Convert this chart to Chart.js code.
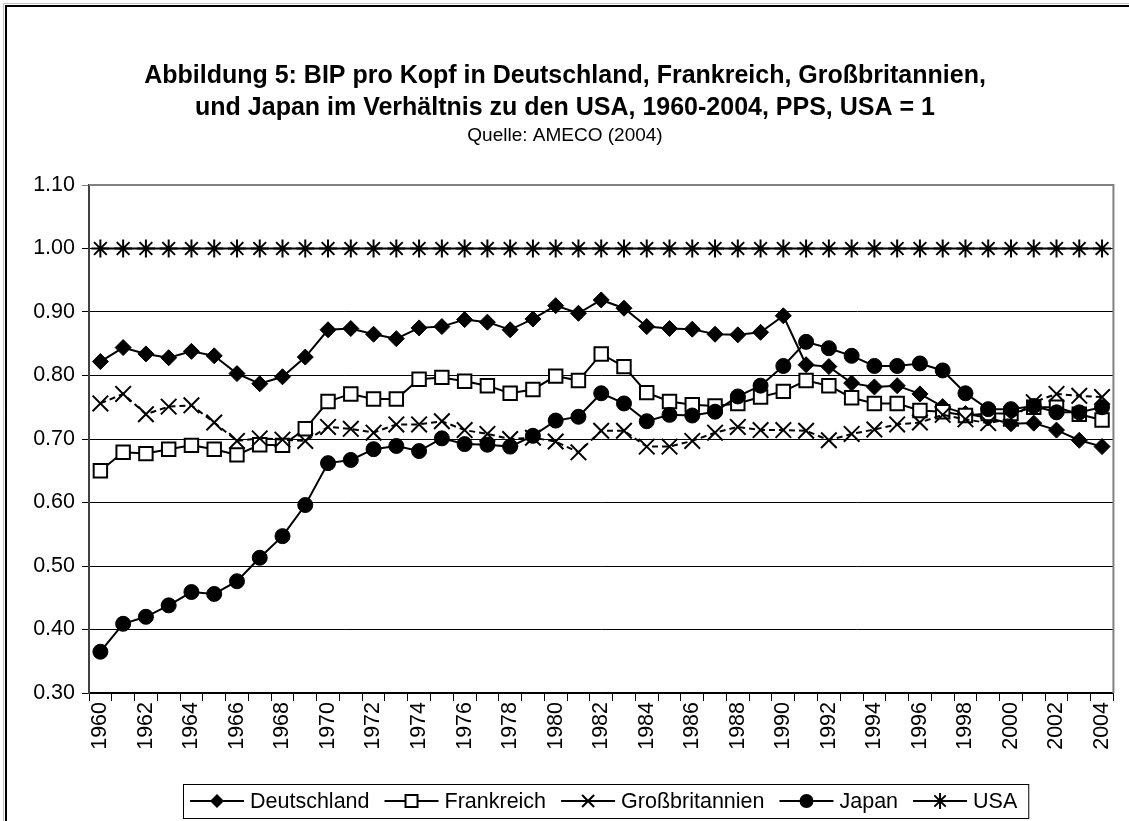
<!DOCTYPE html>
<html>
<head>
<meta charset="utf-8">
<script src="https://cdn.jsdelivr.net/npm/chart.js@4.4.0/dist/chart.umd.min.js"></script>
<style>
  body { margin: 0; background: #fff; }
  #wrap { width: 1129px; height: 821px; }
</style>
</head>
<body>
<div id="wrap"><canvas id="chart" width="1129" height="821"></canvas></div>
<script>
const years = ['1960','1961','1962','1963','1964','1965','1966','1967','1968','1969',
  '1970','1971','1972','1973','1974','1975','1976','1977','1978','1979',
  '1980','1981','1982','1983','1984','1985','1986','1987','1988','1989',
  '1990','1991','1992','1993','1994','1995','1996','1997','1998','1999',
  '2000','2001','2002','2003','2004'];

const deutschland = [0.822, 0.844, 0.834, 0.828, 0.838, 0.831, 0.803, 0.787, 0.798, 0.829,
  0.872, 0.874, 0.865, 0.858, 0.875, 0.877, 0.888, 0.884, 0.872, 0.889,
  0.910, 0.898, 0.919, 0.906, 0.877, 0.874, 0.873, 0.865, 0.864, 0.868,
  0.894, 0.817, 0.814, 0.788, 0.782, 0.784, 0.771, 0.751, 0.740, 0.733,
  0.724, 0.725, 0.714, 0.698, 0.688];

const frankreich = [0.650, 0.679, 0.677, 0.684, 0.690, 0.684, 0.675, 0.691, 0.690, 0.716,
  0.759, 0.771, 0.763, 0.763, 0.794, 0.797, 0.791, 0.784, 0.772, 0.778,
  0.799, 0.792, 0.834, 0.814, 0.773, 0.759, 0.754, 0.752, 0.756, 0.766,
  0.775, 0.792, 0.784, 0.765, 0.756, 0.756, 0.745, 0.743, 0.737, 0.740,
  0.740, 0.750, 0.750, 0.739, 0.730];

const grossbritannien = [0.756, 0.771, 0.739, 0.751, 0.753, 0.726, 0.697, 0.701, 0.699, 0.697,
  0.719, 0.716, 0.710, 0.723, 0.723, 0.728, 0.714, 0.708, 0.700, 0.702,
  0.696, 0.679, 0.713, 0.713, 0.688, 0.688, 0.697, 0.710, 0.719, 0.714,
  0.714, 0.713, 0.698, 0.708, 0.715, 0.723, 0.726, 0.738, 0.731, 0.725,
  0.732, 0.758, 0.771, 0.768, 0.766];

const japan = [0.365, 0.409, 0.420, 0.438, 0.459, 0.456, 0.476, 0.513, 0.547, 0.596,
  0.662, 0.667, 0.684, 0.689, 0.681, 0.701, 0.692, 0.691, 0.688, 0.705,
  0.729, 0.735, 0.772, 0.756, 0.728, 0.738, 0.737, 0.743, 0.767, 0.784,
  0.815, 0.853, 0.843, 0.831, 0.815, 0.815, 0.819, 0.808, 0.772, 0.747,
  0.747, 0.752, 0.742, 0.742, 0.750];

const usa = [1, 1, 1, 1, 1, 1, 1, 1, 1, 1,
  1, 1, 1, 1, 1, 1, 1, 1, 1, 1,
  1, 1, 1, 1, 1, 1, 1, 1, 1, 1,
  1, 1, 1, 1, 1, 1, 1, 1, 1, 1,
  1, 1, 1, 1, 1];

const titleLines = [
  'Abbildung 5: BIP pro Kopf in Deutschland, Frankreich, Großbritannien,',
  'und Japan im Verhältnis zu den USA, 1960-2004, PPS, USA = 1'
];
const subtitle = 'Quelle: AMECO (2004)';

const FONT = '"Liberation Sans", Arial, sans-serif';

// marker for the legend (the chart itself uses Chart.js point styles)
function drawMarker(ctx, style, x, y, r) {
  ctx.save();
  ctx.strokeStyle = '#000';
  ctx.fillStyle = '#000';
  ctx.lineWidth = 2;
  ctx.beginPath();
  if (style === 'rectRot') {
    ctx.moveTo(x, y - r); ctx.lineTo(x + r, y); ctx.lineTo(x, y + r); ctx.lineTo(x - r, y);
    ctx.closePath(); ctx.fill();
  } else if (style === 'rect') {
    ctx.fillStyle = '#fff';
    ctx.rect(x - r, y - r, 2 * r, 2 * r);
    ctx.fill(); ctx.stroke();
  } else if (style === 'crossRot') {
    ctx.moveTo(x - r, y - r); ctx.lineTo(x + r, y + r);
    ctx.moveTo(x + r, y - r); ctx.lineTo(x - r, y + r);
    ctx.stroke();
  } else if (style === 'circle') {
    ctx.arc(x, y, r, 0, Math.PI * 2); ctx.fill();
  } else if (style === 'star') {
    const d = r * Math.SQRT1_2;
    ctx.moveTo(x, y - r); ctx.lineTo(x, y + r);
    ctx.moveTo(x - d, y - d); ctx.lineTo(x + d, y + d);
    ctx.moveTo(x + d, y - d); ctx.lineTo(x - d, y + d);
    ctx.stroke();
  }
  ctx.restore();
}

const legendItems = [
  { text: 'Deutschland', style: 'rectRot', r: 7 },
  { text: 'Frankreich', style: 'rect', r: 6 },
  { text: 'Großbritannien', style: 'crossRot', r: 6 },
  { text: 'Japan', style: 'circle', r: 7 },
  { text: 'USA', style: 'star', r: 8 }
];

const decor = {
  id: 'decor',
  beforeDraw(chart) {
    const ctx = chart.ctx;
    ctx.save();
    ctx.fillStyle = '#fff';
    ctx.fillRect(0, 0, chart.width, chart.height);
    ctx.restore();
  },
  afterDraw(chart) {
    const ctx = chart.ctx;
    const a = chart.chartArea;
    ctx.save();

    // plot frame (top and right)
    ctx.strokeStyle = '#808080';
    ctx.lineWidth = 2;
    ctx.beginPath();
    ctx.moveTo(a.left, a.top);
    ctx.lineTo(a.right, a.top);
    ctx.lineTo(a.right, a.bottom);
    ctx.stroke();

    // outer border
    ctx.strokeStyle = '#c0c0c0';
    ctx.lineWidth = 1;
    ctx.beginPath();
    ctx.moveTo(3.5, chart.height + 5); ctx.lineTo(3.5, 3.5); ctx.lineTo(chart.width + 5, 3.5);
    ctx.stroke();
    ctx.strokeStyle = '#000';
    ctx.lineWidth = 2;
    ctx.beginPath();
    ctx.moveTo(6, chart.height + 5); ctx.lineTo(6, 6); ctx.lineTo(chart.width + 5, 6);
    ctx.stroke();

    // titles
    ctx.fillStyle = '#000';
    ctx.textAlign = 'center';
    ctx.textBaseline = 'alphabetic';
    ctx.font = 'bold 25px ' + FONT;
    ctx.fillText(titleLines[0], 565, 83);
    ctx.fillText(titleLines[1], 565, 115);
    ctx.font = '19px ' + FONT;
    ctx.fillText(subtitle, 565, 141);

    // legend
    ctx.font = '21.5px ' + FONT;
    ctx.textAlign = 'left';
    ctx.textBaseline = 'middle';
    const ly = 801;
    let x = 190;
    legendItems.forEach(it => {
      ctx.strokeStyle = '#000';
      ctx.lineWidth = 2;
      ctx.beginPath();
      ctx.moveTo(x, ly); ctx.lineTo(x + 54, ly);
      ctx.stroke();
      drawMarker(ctx, it.style, x + 27, ly, it.r);
      ctx.fillStyle = '#000';
      ctx.fillText(it.text, x + 60, ly + 1);
      x = x + 60 + ctx.measureText(it.text).width + 15;
    });
    ctx.strokeStyle = '#000';
    ctx.lineWidth = 1;
    ctx.strokeRect(183.5, 784.5, x - 183 - 4, 34);

    ctx.restore();
  }
};

new Chart(document.getElementById('chart'), {
  type: 'line',
  data: {
    labels: years,
    datasets: [
      { label: 'Deutschland', data: deutschland, order: 5,
        borderColor: '#000', borderWidth: 2,
        pointStyle: 'rectRot', pointRadius: 8,
        pointBackgroundColor: '#000', pointBorderColor: '#000', pointBorderWidth: 1 },
      { label: 'Frankreich', data: frankreich, order: 4,
        borderColor: '#000', borderWidth: 2,
        pointStyle: 'rect', pointRadius: 9.5,
        pointBackgroundColor: '#fff', pointBorderColor: '#000', pointBorderWidth: 2 },
      { label: 'Großbritannien', data: grossbritannien, order: 3,
        borderColor: '#000', borderWidth: 2, borderDash: [6, 4],
        pointStyle: 'crossRot', pointRadius: 11,
        pointBackgroundColor: '#000', pointBorderColor: '#000', pointBorderWidth: 2 },
      { label: 'Japan', data: japan, order: 2,
        borderColor: '#000', borderWidth: 2,
        pointStyle: 'circle', pointRadius: 7.5,
        pointBackgroundColor: '#000', pointBorderColor: '#000', pointBorderWidth: 1 },
      { label: 'USA', data: usa, order: 1,
        borderColor: '#000', borderWidth: 2,
        pointStyle: 'star', pointRadius: 9,
        pointBackgroundColor: '#000', pointBorderColor: '#000', pointBorderWidth: 2 }
    ]
  },
  options: {
    responsive: false,
    animation: false,
    devicePixelRatio: 1,
    layout: { padding: { top: 185, left: 0, right: 14, bottom: 58 } },
    elements: { line: { tension: 0 } },
    plugins: {
      legend: { display: false },
      title: { display: false },
      tooltip: { enabled: false }
    },
    scales: {
      x: {
        offset: true,
        afterFit(scale) { scale.height = 70; },
        grid: { offset: true, drawOnChartArea: false, drawTicks: true, tickLength: 8, color: '#000', lineWidth: 1 },
        border: { display: true, color: '#000', width: 1.5 },
        ticks: {
          autoSkip: false, maxRotation: 90, minRotation: 90, padding: 1,
          color: '#000', font: { family: FONT, size: 21.5 },
          callback(v, i) { return i % 2 === 0 ? years[i] : ''; }
        }
      },
      y: {
        min: 0.3, max: 1.1,
        afterFit(scale) { scale.width = 89; },
        grid: {
          tickLength: 7, lineWidth: 1,
          color(c) { return c.tick && c.tick.value > 1.05 ? '#808080' : '#000'; }
        },
        border: { display: true, color: '#404040', width: 2 },
        ticks: {
          stepSize: 0.1, padding: 7, color: '#000',
          font: { family: FONT, size: 21.5 },
          callback(v) { return v.toFixed(2); }
        }
      }
    }
  },
  plugins: [decor]
});
</script>
</body>
</html>
